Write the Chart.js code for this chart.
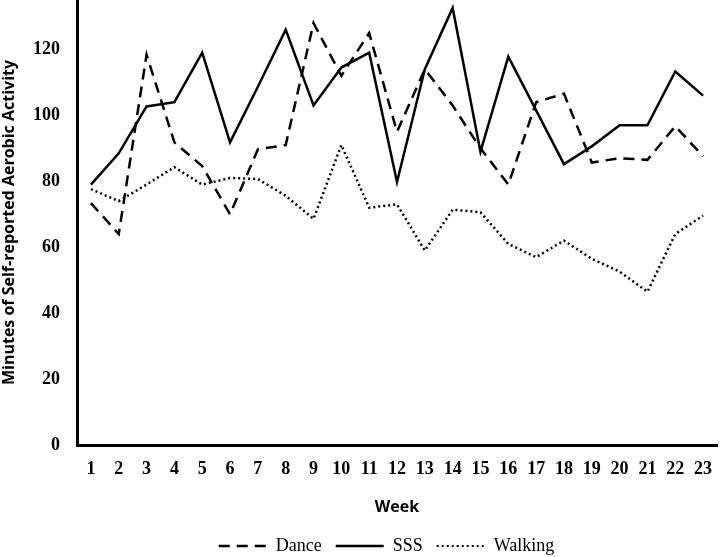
<!DOCTYPE html>
<html>
<head>
<meta charset="utf-8">
<script src="https://cdn.jsdelivr.net/npm/chart.js@4.4.1/dist/chart.umd.min.js"></script>
<style>
html,body{margin:0;padding:0;background:#fff;}
#wrap{width:720px;height:557px;position:relative;}
</style>
</head>
<body>
<div id="wrap"><canvas id="c" width="720" height="557"></canvas></div>
<script>
const weeks = ['1','2','3','4','5','6','7','8','9','10','11','12','13','14','15','16','17','18','19','20','21','22','23'];
const dance = [73.4,64,118.4,91.8,84.6,70,89.7,91,128,112,125,95,114,103,90,79,104,106.6,85.7,87,86.5,96.7,87.6];
const sss = [79,88.5,102.7,104,119,91.8,108.7,126,103,114.5,119,79.8,114,132.6,89,117.8,101.5,85.2,90.6,97,97,113.3,106];
const walking = [77.6,74,79,84.3,79,81,80.7,75.6,68.6,91,72,73,59,71.4,70.6,61,57,62,56.5,52.6,46.5,64,69.6];
const yTicks = [0,20,40,60,80,100,120];

const serif = '"Liberation Serif", "Times New Roman", serif';
const sans = '"Open Sans", "Liberation Sans", sans-serif';

const legendShift = {
  id:'legendShift',
  afterLayout(chart){
    const lg = chart.legend;
    if(!lg) return;
    lg.left += 28; lg.right += 28;
    lg.top += 6; lg.bottom += 6;
  }
};

new Chart(document.getElementById('c'), {
  type: 'line',
  data: {
    labels: weeks,
    datasets: [
      {label:'Dance', data:dance, borderColor:'#000', backgroundColor:'#000', borderWidth:2.5, borderDash:[11,7], pointRadius:0, tension:0, fill:false},
      {label:'SSS', data:sss, borderColor:'#000', backgroundColor:'#000', borderWidth:2.5, pointRadius:0, tension:0, fill:false},
      {label:'Walking', data:walking, borderColor:'#000', backgroundColor:'#000', borderWidth:2.5, borderDash:[2,3], pointRadius:0, tension:0, fill:false}
    ]
  },
  plugins:[legendShift],
  options: {
    responsive:false,
    animation:false,
    layout:{padding:{top:0,right:3,left:0,bottom:-2}},
    plugins:{
      legend:{
        position:'bottom',
        labels:{
          usePointStyle:true,
          pointStyle:'line',
          pointStyleWidth:48,
          boxWidth:48,
          color:'#000',
          font:{family:serif,size:18},
          padding:14,
          generateLabels:(chart)=>chart.data.datasets.map((ds,i)=>({
            text:ds.label,
            fillStyle:'#000',
            strokeStyle:'#000',
            lineWidth:ds.label==='Walking'?2:2.5,
            lineDash:ds.label==='Walking'?[2,3]:(ds.borderDash||[]),
            pointStyle:'line',
            fontColor:'#000',
            hidden:false,
            datasetIndex:i
          }))
        }
      },
      tooltip:{enabled:false}
    },
    scales:{
      x:{
        offset:true,
        grid:{display:false,drawTicks:false,tickLength:0},
        border:{display:true,color:'#000',width:3},
        ticks:{color:'#000',font:{family:serif,size:18,weight:'bold'},padding:14,maxRotation:0,autoSkip:false},
        title:{display:true,text:'Week',color:'#000',font:{family:sans,size:16,weight:'bold'},padding:{top:0,bottom:0}},
        afterFit:(s)=>{s.height=72; s.paddingLeft=0; s.paddingRight=0;}
      },
      y:{
        min:0,max:135,
        grid:{display:false,drawTicks:false,tickLength:0},
        border:{display:true,color:'#000',width:3},
        afterBuildTicks:(s)=>{s.ticks = yTicks.map(v=>({value:v}));},
        ticks:{color:'#000',font:{family:serif,size:18,weight:'bold'},padding:17},
        title:{display:true,text:'Minutes of Self-reported Aerobic Activity',color:'#000',font:{family:sans,size:16,weight:'bold'},padding:{top:0,bottom:0}},
        afterFit:(s)=>{s.width=77; s.paddingTop=0; s.paddingBottom=0;}
      }
    }
  }
});
</script>
</body>
</html>
